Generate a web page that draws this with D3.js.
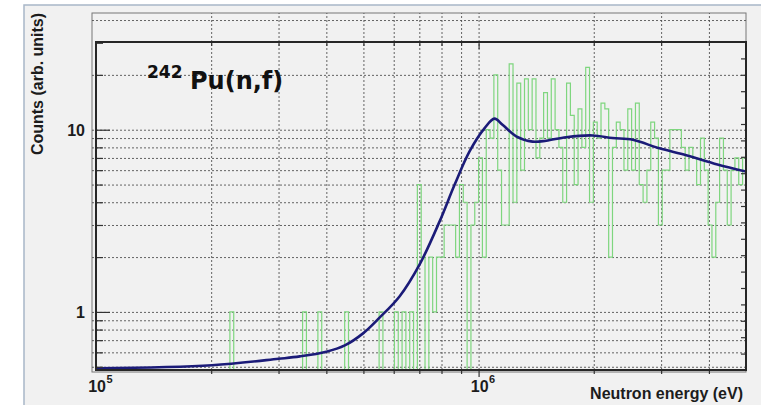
<!DOCTYPE html>
<html>
<head>
<meta charset="utf-8">
<script src="https://cdn.jsdelivr.net/npm/d3@7"></script>
<style>
  html, body { margin: 0; padding: 0; background: #ffffff; }
  svg { display: block; }
</style>
</head>
<body>
<svg id="chart" width="761" height="405"></svg>
<script>
// ---- Data -------------------------------------------------------------
// Measured fission counts: log-spaced bins, 100 per decade from 1e5 eV
const binStartLog = 5;
const binWidthLog = 0.01;
const counts = [
  0,0,0,0,0,0,0,0,0,0, 0,0,0,0,0,0,0,0,0,0,   // 0-19
  0,0,0,0,0,0,0,0,0,0, 0,0,0,0,0,1,0,0,0,0,   // 20-39
  0,0,0,0,0,0,0,0,0,0, 0,0,0,0,1,0,0,0,1,0,   // 40-59
  0,0,0,0,0,1,0,0,0,0, 0,0,0,0,1,0,0,0,1,0,   // 60-79
  1,0,1,0,5,2,0,2,1,2, 2,3,3,3,2,5,4,0,3,4,   // 80-99
  7,2,10,9,20,6,3,3,23,4, 18,6,19,10,19,7,9,16,9,19, // 100-119
  10,8,4,18,12,5,13,8,22,4, 11,9,14,13,2,8,11,10,6,13, // 120-139
  6,14,5,4,6,11,9,3,6,6, 10,10,10,8,6,8,7,5,9,6,  // 140-159
  3,2,4,9,6,3,6,7,5,7                              // 160-169
];

// Evaluated cross-section shape (arb. units)
const curveEnergy = [1.0e5, 2.01e5, 3.0e5, 3.41e5, 4.0e5, 4.47e5, 4.98e5, 5.51e5,
  6.22e5, 7.02e5, 7.91e5, 8.66e5, 9.47e5, 1.037e6, 1.10e6, 1.157e6,
  1.254e6, 1.383e6, 1.502e6, 1.694e6, 1.988e6, 2.24e6, 2.53e6, 2.97e6, 3.49e6,
  4.21e6, 5.0e6];
const curveValue = [0.49, 0.51, 0.553, 0.57, 0.605, 0.655, 0.76, 0.93,
  1.22, 1.83, 3.14, 5.0, 7.6, 10.2, 11.5, 10.6,
  9.2, 8.6, 8.7, 9.1, 9.3, 9.0, 8.8, 7.9, 7.25,
  6.45, 5.9];

// Axis ticks and labels
const xMinorTicks = [2e5, 3e5, 4e5, 5e5, 6e5, 7e5, 8e5, 9e5, 2e6, 3e6, 4e6];
const xMajorTicks = [1e6];
const xGridValues = [2e5, 3e5, 4e5, 5e5, 6e5, 7e5, 8e5, 9e5, 1e6, 2e6, 3e6, 4e6];
const xLabelValues = [1e5, 1e6];
const xLabelBase = ["10", "10"];
const xLabelExp = ["5", "6"];
const yGridValues = [0.5, 0.6, 0.7, 0.8, 0.9, 1, 2, 3, 4, 5, 6, 7, 8, 9, 10, 20, 40];
const yMinorTicks = [0.5, 0.6, 0.7, 0.8, 0.9, 2, 3, 4, 5, 6, 7, 8, 9, 20, 30];
const yMajorTicks = [1, 10];
const yLabelValues = [1, 10];
const yLabelText = ["1", "10"];
const rightTickCount = 20;

// ---- Layout -----------------------------------------------------------
const W = 761, H = 405;
const plot = { left: 96, right: 746, top: 42, bottom: 370 };
const gridBox = { left: 92, top: 13, right: 746, bottom: 372 };
const labelFont = "'Liberation Sans', Arial, Helvetica, sans-serif";
const titleFont = "'DejaVu Sans', Verdana, sans-serif";
const ink = "#1c1c1c";

const x = d3.scaleLog().domain([1e5, 5e6]).range([plot.left, plot.right]);
const y = d3.scaleLog().domain([0.48, 30.3]).range([plot.bottom, plot.top]);
const yRight = d3.scaleLinear().domain([0, rightTickCount]).range([plot.bottom, plot.top]);

const svg = d3.select("#chart");

// Canvas panel
svg.append("rect")
  .attr("x", 24).attr("y", 5)
  .attr("width", W - 24 + 4).attr("height", H)
  .attr("fill", "#f1f1f1")
  .attr("stroke", "#a8b7c7").attr("stroke-width", 1.5);

// Grid frame
svg.append("rect")
  .attr("x", gridBox.left).attr("y", gridBox.top)
  .attr("width", gridBox.right - gridBox.left)
  .attr("height", gridBox.bottom - gridBox.top)
  .attr("fill", "none").attr("stroke", "#777").attr("stroke-width", 1);

// Dotted grid
const styleGrid = g => {
  g.select(".domain").remove();
  g.selectAll("line")
    .attr("stroke", "#4a4a4a")
    .attr("stroke-width", 1)
    .attr("stroke-dasharray", "2,2")
    .attr("opacity", 0.85);
};
svg.append("g")
  .attr("transform", `translate(0,${plot.bottom})`)
  .call(d3.axisBottom(x).tickValues(xGridValues)
    .tickSize(-(plot.bottom - gridBox.top)).tickFormat(""))
  .call(styleGrid);
svg.append("g")
  .attr("transform", `translate(${gridBox.left},0)`)
  .call(d3.axisLeft(y).tickValues(yGridValues)
    .tickSize(-(gridBox.right - gridBox.left)).tickFormat(""))
  .call(styleGrid);

// Clip region for data
svg.append("clipPath").attr("id", "plotClip")
  .append("rect")
  .attr("x", plot.left).attr("y", plot.top)
  .attr("width", plot.right - plot.left)
  .attr("height", plot.bottom - plot.top);

// Histogram step outline (empty bins drop below the axis)
const floorY = plot.bottom + 3;
const yOf = v => v > 0 ? y(v) : floorY;
let d = "";
counts.forEach((c, i) => {
  const x0 = x(Math.pow(10, binStartLog + i * binWidthLog));
  const x1 = x(Math.pow(10, binStartLog + (i + 1) * binWidthLog));
  const yy = yOf(c);
  d += (i === 0 ? `M${x0},${floorY}` : "") + `L${x0},${yy}L${x1},${yy}`;
});
{
  const xEnd = x(Math.pow(10, binStartLog + counts.length * binWidthLog));
  d += `L${xEnd},${floorY}`;
}
svg.append("path")
  .attr("d", d)
  .attr("clip-path", "url(#plotClip)")
  .attr("fill", "none")
  .attr("stroke", "#7fd67f")
  .attr("stroke-width", 1.2);

// Smooth curve
const line = d3.line()
  .x(k => x(curveEnergy[k]))
  .y(k => y(curveValue[k]))
  .curve(d3.curveCatmullRom.alpha(0.5));
svg.append("path")
  .attr("d", line(d3.range(curveEnergy.length)))
  .attr("clip-path", "url(#plotClip)")
  .attr("fill", "none")
  .attr("stroke", "#1b1b78")
  .attr("stroke-width", 2.6)
  .attr("stroke-linejoin", "round");

// Tick marks
const styleTicks = g => {
  g.select(".domain").remove();
  g.selectAll("line").attr("stroke", "#333").attr("stroke-width", 1.2);
};
// left
svg.append("g").attr("transform", `translate(${plot.left},0)`)
  .call(d3.axisLeft(y).tickValues(yMinorTicks).tickSize(-7).tickFormat(""))
  .call(styleTicks);
svg.append("g").attr("transform", `translate(${plot.left},0)`)
  .call(d3.axisLeft(y).tickValues(yMajorTicks).tickSize(-14).tickFormat(""))
  .call(styleTicks);
// right
svg.append("g").attr("transform", `translate(${plot.right},0)`)
  .call(d3.axisRight(yRight).tickValues(d3.range(1, rightTickCount)).tickSize(-5).tickFormat(""))
  .call(styleTicks);
// top
svg.append("g").attr("transform", `translate(0,${plot.top})`)
  .call(d3.axisTop(x).tickValues(xMinorTicks).tickSize(-4).tickFormat(""))
  .call(styleTicks);
svg.append("g").attr("transform", `translate(0,${plot.top})`)
  .call(d3.axisTop(x).tickValues(xMajorTicks).tickSize(-7).tickFormat(""))
  .call(styleTicks);
// bottom
svg.append("g").attr("transform", `translate(0,${plot.bottom})`)
  .call(d3.axisBottom(x).tickValues(xMinorTicks).tickSize(4).tickFormat(""))
  .call(styleTicks);
svg.append("g").attr("transform", `translate(0,${plot.bottom})`)
  .call(d3.axisBottom(x).tickValues(xMajorTicks).tickSize(7).tickFormat(""))
  .call(styleTicks);

// Axis frame
svg.append("rect")
  .attr("x", plot.left).attr("y", plot.top)
  .attr("width", plot.right - plot.left)
  .attr("height", plot.bottom - plot.top)
  .attr("fill", "none").attr("stroke", "#262626").attr("stroke-width", 2);

// Y tick labels
svg.append("g").selectAll("text")
  .data(yLabelValues)
  .join("text")
  .attr("x", plot.left - 11)
  .attr("y", v => y(v) + 6)
  .attr("text-anchor", "end")
  .attr("font-family", labelFont).attr("font-weight", "bold")
  .attr("font-size", 16).attr("fill", ink)
  .text((v, i) => yLabelText[i]);

// X tick labels (powers of ten)
svg.append("g").selectAll("text")
  .data(xLabelValues)
  .join("text")
  .attr("x", v => x(v) + 10)
  .attr("y", 392)
  .attr("text-anchor", "end")
  .attr("font-family", labelFont).attr("font-weight", "bold")
  .attr("font-size", 16).attr("fill", ink)
  .text((v, i) => xLabelBase[i]);
svg.append("g").selectAll("text")
  .data(xLabelValues)
  .join("text")
  .attr("x", v => x(v) + 10.5)
  .attr("y", 383)
  .attr("font-family", labelFont).attr("font-weight", "bold")
  .attr("font-size", 11).attr("fill", ink)
  .text((v, i) => xLabelExp[i]);

// Axis titles
svg.append("text")
  .attr("x", 743).attr("y", 399)
  .attr("text-anchor", "end")
  .attr("font-family", labelFont).attr("font-weight", "bold")
  .attr("font-size", 16).attr("fill", ink)
  .text("Neutron energy (eV)");
svg.append("text")
  .attr("transform", "translate(43,84) rotate(-90)")
  .attr("text-anchor", "middle")
  .attr("font-family", labelFont).attr("font-weight", "bold")
  .attr("font-size", 16).attr("fill", ink)
  .text("Counts (arb. units)");

// Reaction label
svg.append("text")
  .attr("x", 147).attr("y", 78)
  .attr("font-family", titleFont).attr("font-weight", "bold")
  .attr("font-size", 17).attr("fill", "#111")
  .text("242");
svg.append("text")
  .attr("x", 190).attr("y", 89)
  .attr("font-family", titleFont).attr("font-weight", "bold")
  .attr("font-size", 24).attr("fill", "#111")
  .text("Pu(n,f)");
</script>
</body>
</html>
